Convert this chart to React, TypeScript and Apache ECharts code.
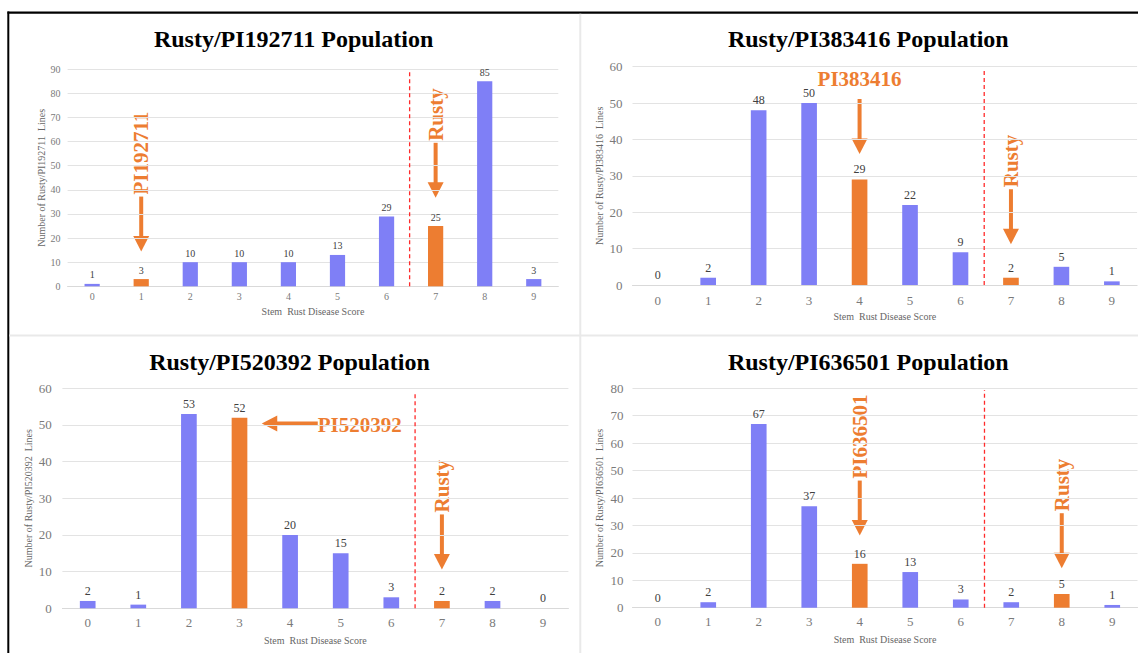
import React, { useEffect, useRef } from 'react';
import * as echarts from 'echarts';

// ---------- data ----------
const scores = ['0', '1', '2', '3', '4', '5', '6', '7', '8', '9'];
const titles = [
  'Rusty/PI192711 Population',
  'Rusty/PI383416 Population',
  'Rusty/PI520392 Population',
  'Rusty/PI636501 Population',
];
const yNames = [
  'Number of Rusty/PI192711  Lines',
  'Number of Rusty/PI383416  Lines',
  'Number of Rusty/PI520392  Lines',
  'Number of Rusty/PI636501  Lines',
];
const xName = 'Stem  Rust Disease Score';
const counts192711 = [1, 3, 10, 10, 10, 13, 29, 25, 85, 3];
const counts383416 = [0, 2, 48, 50, 29, 22, 9, 2, 5, 1];
const counts520392 = [2, 1, 53, 52, 20, 15, 3, 2, 2, 0];
const counts636501 = [0, 2, 67, 37, 16, 13, 3, 2, 5, 1];
const panelCounts = [counts192711, counts383416, counts520392, counts636501];
const parentScore = [1, 4, 3, 4];
const rustyScore = [7, 7, 7, 8];
const yMax = [90, 60, 60, 80];
const cutoffScore = 6.47;
const cutoffTop = [89.7, 59.1, 58.6, 79.4];

// annotation anchors (data coordinates of arrow tips)
const annotations = [
  { panel: 0, label: 'PI192711', x: 1, tip: 14.4, kind: 'vertical' },
  { panel: 0, label: 'Rusty', x: 7, tip: 36.7, kind: 'vertical' },
  { panel: 1, label: 'PI383416', x: 4, tip: 36.0, kind: 'horizontal' },
  { panel: 1, label: 'Rusty', x: 7, tip: 11.2, kind: 'vertical' },
  { panel: 2, label: 'PI520392', x: 3.44, tip: 50.4, kind: 'left' },
  { panel: 2, label: 'Rusty', x: 7, tip: 10.6, kind: 'vertical' },
  { panel: 3, label: 'PI636501', x: 4, tip: 26.3, kind: 'vertical' },
  { panel: 3, label: 'Rusty', x: 8, tip: 14.4, kind: 'vertical' },
];

// ---------- styles / layout ----------
const BLUE = '#7f7ff6';
const ORANGE = '#ED7D31';
const SERIF = '"Liberation Serif", "Times New Roman", serif';
const grids = [
  { left: 67.6, top: 69.3, width: 490.7, height: 217 },
  { left: 632.5, top: 66.7, width: 504.6, height: 218.3 },
  { left: 62.4, top: 388.3, width: 506, height: 220 },
  { left: 632.5, top: 388.3, width: 505, height: 219.4 },
];
const titleCenters = [
  [293.6, 39.3],
  [868.3, 39.3],
  [289.5, 362.3],
  [868.3, 362.3],
];
const tickFont = [10, 13, 13, 13];
const labelFont = [10, 12, 12, 12];
const xLabelMargin = [5, 8.5, 8, 7.5];
const yLabelMargin = [7, 10, 10.6, 9];
const xNameGap = [19.7, 26, 26.7, 26.3];
const yNameGap = [20.8, 27.8, 28.5, 27.8];

export default function App() {
  const ref = useRef<HTMLDivElement>(null);

  useEffect(() => {
    if (!ref.current) return;
    const chart = echarts.init(ref.current, undefined, { renderer: 'svg' });

    const xAxes: any[] = [];
    const yAxes: any[] = [];
    const series: any[] = [];
    const graphics: any[] = [
      { type: 'rect', shape: { x: 7.5, y: 11.5, width: 1131, height: 2.2 }, style: { fill: '#000' } },
      { type: 'rect', shape: { x: 7.3, y: 11.5, width: 2, height: 642 }, style: { fill: '#000' } },
      { type: 'rect', shape: { x: 579.3, y: 13.7, width: 2, height: 640 }, style: { fill: '#e9e9e9' } },
      { type: 'rect', shape: { x: 9.3, y: 334.5, width: 1129, height: 2 }, style: { fill: '#e9e9e9' } },
    ];

    for (let k = 0; k < 4; k++) {
      xAxes.push({
        type: 'category',
        gridIndex: k,
        data: scores,
        boundaryGap: true,
        axisTick: { show: false },
        axisLine: { show: true, lineStyle: { color: '#d9d9d9', width: 1 } },
        axisLabel: { color: '#7a7a7a', fontFamily: SERIF, fontSize: tickFont[k], margin: xLabelMargin[k] },
        name: xName,
        nameLocation: 'middle',
        nameGap: xNameGap[k],
        nameTextStyle: { color: '#666', fontFamily: SERIF, fontSize: 10 },
      });
      yAxes.push({
        type: 'value',
        gridIndex: k,
        min: 0,
        max: yMax[k],
        interval: 10,
        axisLine: { show: false },
        axisTick: { show: false },
        splitLine: { lineStyle: { color: '#e3e3e3', width: 1 } },
        axisLabel: { color: '#7a7a7a', fontFamily: SERIF, fontSize: tickFont[k], margin: yLabelMargin[k] },
        name: yNames[k],
        nameLocation: 'middle',
        nameRotate: 90,
        nameGap: yNameGap[k],
        nameTextStyle: { color: '#666', fontFamily: SERIF, fontSize: 10 },
      });
      series.push({
        type: 'bar',
        name: titles[k],
        xAxisIndex: k,
        yAxisIndex: k,
        barWidth: '31%',
        data: panelCounts[k].map((v, i) => ({
          value: v,
          itemStyle: { color: i === parentScore[k] || i === rustyScore[k] ? ORANGE : BLUE },
        })),
        label: {
          show: true,
          position: 'top',
          distance: 4,
          color: '#404040',
          fontFamily: SERIF,
          fontSize: labelFont[k],
        },
      });
    }
    // hidden value x axes for the resistance cutoff line
    for (let k = 0; k < 4; k++) {
      xAxes.push({ type: 'value', gridIndex: k, min: -0.5, max: 9.5, show: false });
      series.push({
        type: 'line',
        name: 'cutoff' + k,
        xAxisIndex: 4 + k,
        yAxisIndex: k,
        symbol: 'none',
        silent: true,
        lineStyle: { color: '#ff2a2a', width: 1.3, type: [4, 3] },
        data: [
          [cutoffScore, 0],
          [cutoffScore, cutoffTop[k]],
        ],
      });
    }

    titles.forEach((t, k) => {
      graphics.push({
        type: 'text',
        x: titleCenters[k][0],
        y: titleCenters[k][1],
        style: {
          text: t,
          fill: '#000',
          font: `bold 24px ${SERIF}`,
          textAlign: 'center',
          textVerticalAlign: 'middle',
        },
      });
    });

    chart.setOption({
      animation: false,
      backgroundColor: '#fff',
      grid: grids.map((g) => ({ ...g, containLabel: false })),
      xAxis: xAxes,
      yAxis: yAxes,
      series,
      graphic: graphics,
    });

    // annotations placed through the chart's own scales
    const ann: any[] = [];
    const font = `bold 21px ${SERIF}`;
    annotations.forEach((a) => {
      const p = chart.convertToPixel({ xAxisIndex: 4 + a.panel, yAxisIndex: a.panel } as any, [a.x, a.tip]) as number[];
      const [px, py] = p;
      if (a.kind === 'left') {
        ann.push({
          type: 'line',
          shape: { x1: px + 14, y1: py, x2: px + 56, y2: py },
          style: { stroke: ORANGE, lineWidth: 4 },
        });
        ann.push({
          type: 'polygon',
          shape: { points: [[px, py], [px + 15.5, py - 8], [px + 15.5, py + 8]] },
          style: { fill: ORANGE },
        });
        ann.push({
          type: 'text',
          x: px + 56,
          y: py + 1,
          style: { text: a.label, fill: ORANGE, font, textAlign: 'left', textVerticalAlign: 'middle' },
        });
      } else {
        ann.push({
          type: 'line',
          shape: { x1: px, y1: py - 55, x2: px, y2: py - 14 },
          style: { stroke: ORANGE, lineWidth: 4 },
        });
        ann.push({
          type: 'polygon',
          shape: { points: [[px, py], [px - 8, py - 15.5], [px + 8, py - 15.5]] },
          style: { fill: ORANGE },
        });
        if (a.kind === 'horizontal') {
          ann.push({
            type: 'text',
            x: px,
            y: py - 75,
            style: { text: a.label, fill: ORANGE, font, textAlign: 'center', textVerticalAlign: 'middle' },
          });
        } else {
          ann.push({
            type: 'text',
            x: px,
            y: py - 57,
            rotation: Math.PI / 2,
            style: { text: a.label, fill: ORANGE, font, textAlign: 'left', textVerticalAlign: 'middle' },
          });
        }
      }
    });
    chart.setOption({ graphic: [...graphics, ...ann] });

    return () => chart.dispose();
  }, []);

  return (
    <div
      ref={ref}
      style={{ position: 'fixed', left: 0, top: 0, width: 1138, height: 653, background: '#fff' }}
    />
  );
}
